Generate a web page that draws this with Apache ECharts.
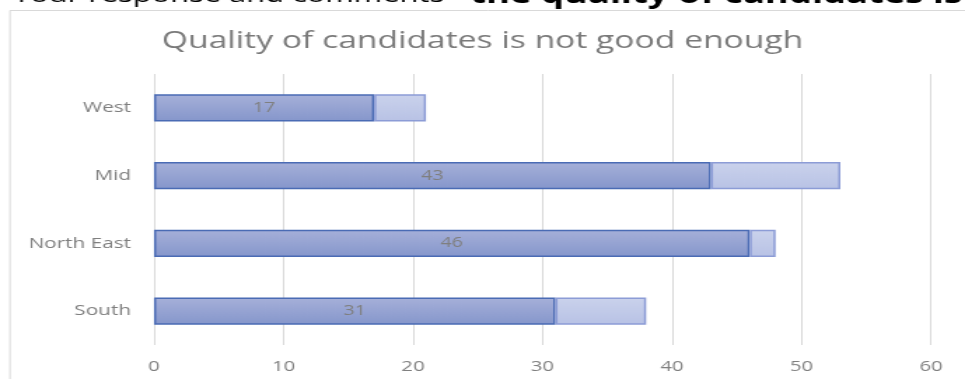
<!DOCTYPE html>
<html>
<head>
<meta charset="utf-8">
<script src="https://cdn.jsdelivr.net/npm/echarts@6/dist/echarts.min.js"></script>
<style>
  html, body { margin: 0; padding: 0; background: #ffffff; overflow: hidden; }
  #wrap { width: 965px; height: 379px; overflow: hidden; position: relative; }
  /* the chart is laid out narrower and widened horizontally, like the pasted slide image */
  #chart { width: 689px; height: 379px; transform: scaleX(1.4006); transform-origin: 0 0; }
</style>
</head>
<body>
<div id="wrap"><div id="chart"></div></div>
<script>
// Regions, top to bottom
const regions = ['West', 'Mid', 'North East', 'South'];
// Main count (labelled, darker segment)
const mainValues = [17, 43, 46, 31];
// Remaining count stacked after it (lighter segment)
const extraValues = [4, 10, 2, 7];
// Value axis ticks
const axisMin = 0, axisMax = 60, axisStep = 10;

const SX = 965 / 689;
const px = v => v / SX;   // screen x -> layout x
const FONT = '"Open Sans", "Noto Sans", sans-serif';

const chart = echarts.init(document.getElementById('chart'), null, { renderer: 'canvas' });

chart.setOption({
  animation: false,
  backgroundColor: '#ffffff',
  textStyle: { fontFamily: FONT },
  title: {
    text: 'Quality of candidates is not good enough',
    left: 'center',
    top: 24,
    textStyle: { color: '#7a7a7a', fontSize: 24, fontWeight: 'normal', fontFamily: FONT }
  },
  graphic: [
    {
      type: 'rect',
      shape: { x: px(10), y: 10.5, width: 900, height: 500 },
      style: { fill: 'none', stroke: '#d9d9d9', lineWidth: 1 },
      silent: true
    },
    {
      type: 'text',
      x: px(13),
      y: -4,
      style: {
        text: '{r|Your response and comments - }{b|the quality of candidates is not good enough}',
        fill: '#000000',
        fontSize: 26,
        fontFamily: FONT,
        lineHeight: 26,
        verticalAlign: 'middle',
        rich: {
          r: { fontSize: 22, lineHeight: 24, fill: '#000000', fontFamily: FONT },
          b: { fontWeight: 'bold', fontSize: 26, lineHeight: 26, fill: '#000000', fontFamily: FONT }
        }
      },
      silent: true
    }
  ],
  grid: {
    left: px(154),
    right: px(965 - 931),
    top: 74,
    bottom: 379 - 345,
    containLabel: false
  },
  xAxis: {
    type: 'value',
    min: axisMin,
    max: axisMax,
    interval: axisStep,
    axisLine: { show: false },
    axisTick: { show: false },
    splitLine: { show: true, lineStyle: { color: '#d9d9d9', width: 1 } },
    axisLabel: { color: '#808080', fontSize: 14.5, margin: 14, fontFamily: FONT }
  },
  yAxis: {
    type: 'category',
    data: regions,
    inverse: true,
    axisLine: { show: false },
    axisTick: { show: false },
    splitLine: { show: false },
    axisLabel: { color: '#7f7f7f', fontSize: 14.8, margin: px(23), fontFamily: FONT }
  },
  series: [
    {
      type: 'bar',
      stack: 'total',
      data: mainValues,
      barWidth: '40%',
      itemStyle: {
        color: new echarts.graphic.LinearGradient(0, 0, 0, 1, [
          { offset: 0, color: '#a6b0d9' },
          { offset: 1, color: '#8596cb' }
        ]),
        borderColor: '#4a6bb4',
        borderWidth: 1.5
      },
      label: {
        show: true,
        position: 'inside',
        color: '#7f7f7f',
        fontSize: 14,
        fontFamily: FONT
      }
    },
    {
      type: 'bar',
      stack: 'total',
      data: extraValues,
      barWidth: '40%',
      itemStyle: {
        color: new echarts.graphic.LinearGradient(0, 0, 0, 1, [
          { offset: 0, color: '#cad2ec' },
          { offset: 1, color: '#b8c2e5' }
        ]),
        borderColor: '#8c9cd6',
        borderWidth: 1.5
      },
      label: { show: false }
    }
  ]
});
</script>
</body>
</html>
